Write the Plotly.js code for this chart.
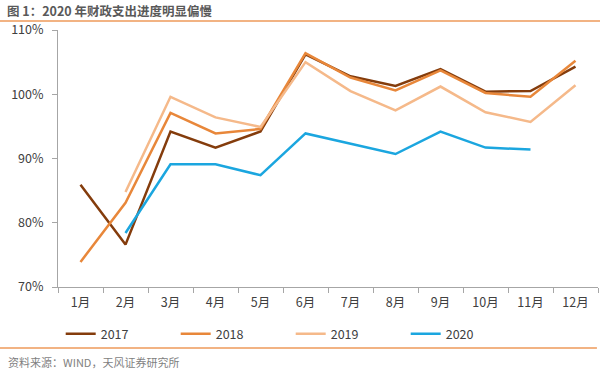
<!DOCTYPE html>
<html><head><meta charset="utf-8">
<script src="https://cdn.plot.ly/plotly-3.0.1.min.js"></script>
<style>html,body{margin:0;padding:0;background:#fff}#c{width:600px;height:371px}</style>
</head><body><div id="c"></div>
<script>
const months = ['1月','2月','3月','4月','5月','6月','7月','8月','9月','10月','11月','12月'];
const s2017 = [85.9, 76.6, 94.2, 91.7, 94.2, 106.2, 102.8, 101.3, 103.9, 100.4, 100.5, 104.3];
const s2018 = [73.9, 83.1, 97.1, 93.9, 94.6, 106.4, 102.6, 100.6, 103.7, 100.2, 99.6, 105.2];
const s2019 = [null, 84.8, 99.6, 96.4, 94.9, 105.0, 100.5, 97.5, 101.2, 97.2, 95.7, 101.4];
const s2020 = [null, 78.4, 89.1, 89.1, 87.4, 93.9, 92.3, 90.7, 94.2, 91.7, 91.4, null];
const names = ['2017','2018','2019','2020'];
const colors = ['#843C0C','#E8873A','#F5B98A','#1BA6DF'];
const series = [s2017, s2018, s2019, s2020];
const font = "'Noto Sans CJK SC', 'Microsoft YaHei', sans-serif";
const traces = series.map((s,i)=>({
  x: months, y: s.map(v=>v==null?null:v/100), name: names[i], type:'scatter', mode:'lines',
  line:{color:colors[i], width:2.5}, connectgaps:false, hoverinfo:'skip'
}));
const layout = {
  width:600, height:371, margin:{l:58, r:2, t:30, b:84},
  paper_bgcolor:'#fff', plot_bgcolor:'#fff',
  font:{family:font, size:12.5, color:'#404040'},
  showlegend:true,
  legend:{orientation:'h', x:0.005, xanchor:'left', y:-0.183, yanchor:'middle',
    entrywidth:70, entrywidthmode:'pixels', bgcolor:'rgba(0,0,0,0)',
    font:{size:12.5, color:'#404040'}, traceorder:'normal'},
  xaxis:{type:'category', range:[-0.5, 11.5], showline:true, linecolor:'#A6A6A6', linewidth:1, ticks:'outside',
    tickson:'boundaries', ticklen:5, tickcolor:'#A6A6A6', showgrid:false, zeroline:false,
    ticklabelstandoff:4, tickfont:{size:12.5, color:'#404040'}, fixedrange:true},
  yaxis:{range:[0.7,1.1], dtick:0.1, tickformat:'.0%', showline:true, linecolor:'#A6A6A6',
    linewidth:1, ticks:'outside', ticklen:5, tickcolor:'#A6A6A6', showgrid:false, zeroline:false,
    ticklabelstandoff:6, tickfont:{size:12.5, color:'#404040'}, fixedrange:true},
  shapes:[
    {type:'line', xref:'paper', yref:'paper', x0:-0.108, x1:1.004, y0:(287-21)/257, y1:(287-21)/257,
     line:{color:'#EE9A5A', width:1.5}},
    {type:'line', xref:'paper', yref:'paper', x0:-0.108, x1:0.998, y0:(287-348)/257, y1:(287-348)/257,
     line:{color:'#EE9A5A', width:1.5}}
  ],
  annotations:[
    {text:'<b>图 1：2020 年财政支出进度明显偏慢</b>', xref:'paper', yref:'paper',
     x:(5-58)/540, y:(287-10)/257, xanchor:'left', yanchor:'middle', showarrow:false,
     font:{size:12.5, color:'#595959', family:font}},
    {text:'资料来源：WIND，天风证券研究所', xref:'paper', yref:'paper',
     x:(6-58)/540, y:(287-362)/257, xanchor:'left', yanchor:'middle', showarrow:false,
     font:{size:11, color:'#7F7F7F', family:font}}
  ]
};
Plotly.newPlot('c', traces, layout, {staticPlot:true, displayModeBar:false});
</script></body></html>
